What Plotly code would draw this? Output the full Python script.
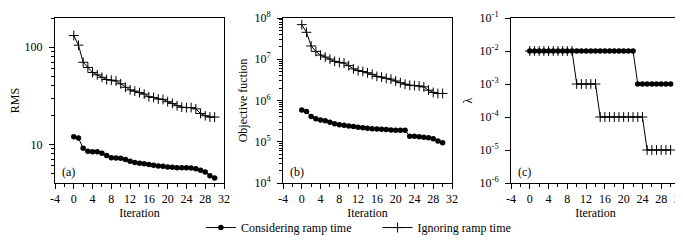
import plotly.graph_objects as go
import math

iterations = list(range(31))

rms_considering = [12.0, 11.6, 9.1, 8.5, 8.4, 8.4, 8.1, 7.7, 7.3, 7.25, 7.2, 7.0, 6.7, 6.5, 6.4, 6.3,
                   6.2, 6.1, 6.0, 5.95, 5.85, 5.8, 5.75, 5.75, 5.75, 5.7, 5.6, 5.4, 5.2, 4.75, 4.5]
rms_ignoring = [132, 105, 70, 62, 55, 52, 49, 46.5, 45.8, 45, 42, 38.7, 36.4, 35.3, 34.1, 32.9,
                30.9, 30.4, 29.3, 29, 27.5, 26.4, 25, 24.1, 23.9, 23.9, 23.2, 20.8, 19.7, 19.1, 19.1]

obj_considering = [5.9e5, 5.4e5, 4.1e5, 3.6e5, 3.37e5, 3.24e5, 2.96e5, 2.75e5, 2.6e5, 2.5e5, 2.42e5,
                   2.33e5, 2.25e5, 2.17e5, 2.12e5, 2.08e5, 2.05e5, 2.0e5, 1.97e5, 1.93e5, 1.9e5,
                   1.9e5, 1.9e5, 1.35e5, 1.35e5, 1.33e5, 1.29e5, 1.25e5, 1.18e5, 1.05e5, 9.4e4]
obj_ignoring = [6.9e7, 4.5e7, 2.1e7, 1.55e7, 1.26e7, 1.13e7, 1.01e7, 8.9e6, 8.4e6, 8.1e6, 7.0e6,
                5.85e6, 5.3e6, 5.05e6, 4.7e6, 4.3e6, 3.84e6, 3.7e6, 3.44e6, 3.3e6, 2.97e6, 2.7e6,
                2.48e6, 2.34e6, 2.3e6, 2.25e6, 2.14e6, 1.78e6, 1.57e6, 1.48e6, 1.48e6]

lam_considering = [1e-2] * 23 + [1e-3] * 8
lam_ignoring = [1e-2] * 10 + [1e-3] * 5 + [1e-4] * 10 + [1e-5] * 6

x_tickvals = list(range(-4, 33, 4))
x_ticktext = ["-4", "0", "4", "8", "12", "16", "20", "24", "28", "32"]
rms_major = [10, 100]
rms_minor = [5, 6, 7, 8, 9, 20, 30, 40, 50, 60, 70, 80, 90, 200]
obj_major = [1e4, 1e5, 1e6, 1e7, 1e8]
obj_major_text = ["10<sup>4</sup>", "10<sup>5</sup>", "10<sup>6</sup>", "10<sup>7</sup>", "10<sup>8</sup>"]
obj_minor = [m * 10 ** e for e in range(4, 8) for m in range(2, 10)]
lam_major = [1e-6, 1e-5, 1e-4, 1e-3, 1e-2, 1e-1]
lam_major_text = ["10<sup>-6</sup>", "10<sup>-5</sup>", "10<sup>-4</sup>", "10<sup>-3</sup>",
                  "10<sup>-2</sup>", "10<sup>-1</sup>"]
legend_names = ["Considering ramp time" + "\u00a0" * 7, "Ignoring ramp time"]

FONT = "Liberation Serif"
BLACK = "black"

fig = go.Figure()

dot_marker = dict(symbol="circle", size=5.5, color=BLACK)
cross_marker = dict(symbol="cross-thin", size=7, color=BLACK, line=dict(width=1, color=BLACK))

panels = [
    ("x", "y", rms_considering, rms_ignoring),
    ("x2", "y2", obj_considering, obj_ignoring),
    ("x3", "y3", lam_considering, lam_ignoring),
]
for i, (xa, ya, cons, ign) in enumerate(panels):
    fig.add_trace(go.Scatter(x=iterations, y=cons, xaxis=xa, yaxis=ya, mode="lines+markers",
                             line=dict(color=BLACK, width=1), marker=dot_marker,
                             name=legend_names[0], showlegend=(i == 0)))
    fig.add_trace(go.Scatter(x=iterations, y=ign, xaxis=xa, yaxis=ya, mode="lines+markers",
                             line=dict(color=BLACK, width=1), marker=cross_marker,
                             name=legend_names[1], showlegend=(i == 0)))

W = 683.0
domains = [[47 / W, 216 / W], [275 / W, 444 / W], [503 / W, 672 / W]]

def xaxis_cfg(dom, anchor):
    return dict(domain=dom, anchor=anchor, range=[-4, 32], tickmode="array", tickvals=x_tickvals,
                ticktext=x_ticktext,
                ticks="outside", ticklen=5, tickwidth=1, tickcolor=BLACK,
                minor=dict(tickmode="linear", tick0=0, dtick=2, ticks="outside", ticklen=3,
                           tickwidth=1, tickcolor=BLACK),
                showline=True, linecolor=BLACK, linewidth=1, mirror=True, showgrid=False,
                zeroline=False, automargin=False,
                title=dict(text="Iteration", standoff=2, font=dict(family=FONT, size=12, color=BLACK)),
                tickfont=dict(family=FONT, size=12, color=BLACK))

def yaxis_cfg(anchor, rng, major, major_text, minor, title):
    cfg = dict(domain=[0, 1], anchor=anchor, type="log", range=rng, tickmode="array",
               tickvals=major, ticks="outside", ticklen=5, tickwidth=1, tickcolor=BLACK,
               ticklabelstandoff=4,
               showline=True, linecolor=BLACK, linewidth=1, mirror=True, showgrid=False,
               zeroline=False, automargin=False,
               title=dict(text=title, standoff=4, font=dict(family=FONT, size=12, color=BLACK)),
               tickfont=dict(family=FONT, size=12, color=BLACK))
    if major_text is not None:
        cfg["ticktext"] = major_text
    if minor:
        cfg["minor"] = dict(tickmode="array", tickvals=minor, ticks="outside", ticklen=3,
                            tickwidth=1, tickcolor=BLACK, showgrid=False)
    return cfg

fig.update_layout(
    width=683, height=242, template="none",
    paper_bgcolor="white", plot_bgcolor="white",
    margin=dict(l=0, r=0, t=10, b=67),
    font=dict(family=FONT, size=12, color=BLACK),
    xaxis=xaxis_cfg(domains[0], "y"),
    xaxis2=xaxis_cfg(domains[1], "y2"),
    xaxis3=xaxis_cfg(domains[2], "y3"),
    yaxis=yaxis_cfg("x", [math.log10(4), math.log10(200)], rms_major, None, rms_minor, "RMS"),
    yaxis2=yaxis_cfg("x2", [4, 8], obj_major, obj_major_text, obj_minor, "Objective fuction"),
    yaxis3=yaxis_cfg("x3", [-6, -1], lam_major, lam_major_text, None, "λ"),
    legend=dict(orientation="h", x=0.513, xanchor="center", y=-0.27, yanchor="middle",
                font=dict(family=FONT, size=12, color=BLACK), bgcolor="rgba(0,0,0,0)",
                itemwidth=30, tracegroupgap=0),
    showlegend=True,
)

for lbl, xr, yr in [("(a)", "x domain", "y domain"), ("(b)", "x2 domain", "y2 domain"),
                    ("(c)", "x3 domain", "y3 domain")]:
    fig.add_annotation(text=lbl, xref=xr, yref=yr, x=0.03, y=0.065, xanchor="left",
                       yanchor="middle", showarrow=False,
                       font=dict(family=FONT, size=12, color=BLACK))

fig.write_html("out.html")
